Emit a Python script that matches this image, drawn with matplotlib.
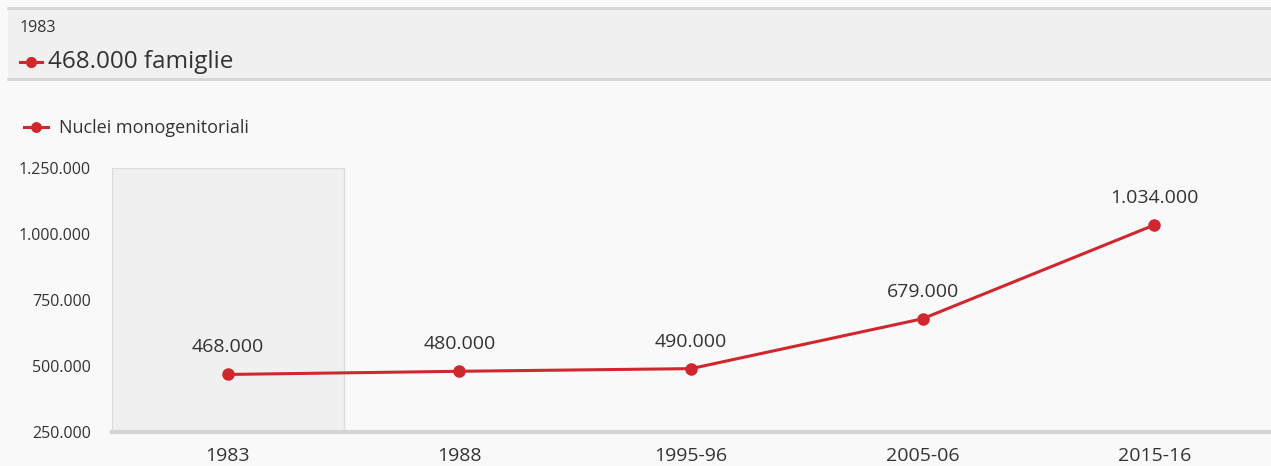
import matplotlib.pyplot as plt
from matplotlib.lines import Line2D
from matplotlib.patches import Rectangle
from matplotlib.ticker import FuncFormatter

plt.rcParams['font.family'] = ['Open Sans', 'DejaVu Sans']

periods = ['1983', '1988', '1995-96', '2005-06', '2015-16']
families = [468000, 480000, 490000, 679000, 1034000]
series_name = 'Nuclei monogenitoriali'
selected = 0

RED = '#d0272e'
TEXT = '#333333'
BG = '#f9f9f9'


def it_fmt(v, pos=None):
    return f'{int(v):,}'.replace(',', '.')


W, H = 1271, 466
fig = plt.figure(figsize=(W / 100, H / 100), dpi=100, facecolor=BG)

# header band with the selected point
fig.patches.append(Rectangle((8 / W, 1 - 80 / H), 1, 72 / H, transform=fig.transFigure,
                             facecolor='#f0f0f0', edgecolor='none', zorder=0))
for yy in (8, 79):
    fig.add_artist(Line2D([8 / W, 1], [1 - yy / H] * 2, color='#d6d6d6', lw=2))
fig.text(20 / W, 1 - 28 / H, periods[selected], fontsize=11.5, color=TEXT, va='center')
fig.add_artist(Line2D([20 / W, 42 / W], [1 - 62 / H] * 2, color=RED, lw=2.2))
fig.add_artist(Line2D([31 / W], [1 - 62 / H], color=RED, marker='o', ms=7))
fig.text(48 / W, 1 - 62 / H, f'{it_fmt(families[selected])} famiglie', fontsize=17.5,
         color=TEXT, va='center')

ax = fig.add_axes([112 / W, 1 - 432 / H, 1158 / W, 264 / H])
ax.set_facecolor(BG)
x = list(range(len(periods)))

# highlighted category band
ax.axvspan(selected - 0.5, selected + 0.5, facecolor='#f0f0f0', edgecolor='#dcdcdc',
           lw=1, zorder=0)

line, = ax.plot(x, families, color=RED, lw=2.2, marker='o', ms=8, zorder=3,
                label=series_name)
for xi, v in zip(x, families):
    ax.annotate(it_fmt(v), (xi, v), xytext=(0, 13), textcoords='offset points',
                ha='center', va='bottom', fontsize=14, color=TEXT)

ax.set_xlim(-0.5, len(periods) - 0.5)
ax.set_ylim(250000, 1250000)
ax.set_yticks([250000, 500000, 750000, 1000000, 1250000])
ax.yaxis.set_major_formatter(FuncFormatter(it_fmt))
ax.set_xticks(x)
ax.set_xticklabels(periods)
ax.tick_params(axis='y', length=0, labelsize=11.5, labelcolor=TEXT, pad=15)
ax.tick_params(axis='x', length=0, labelsize=14, labelcolor=TEXT, pad=11)
for s in ('top', 'right', 'left'):
    ax.spines[s].set_visible(False)
ax.spines['bottom'].set_color('#d4d4d4')
ax.spines['bottom'].set_linewidth(3)

fig.legend(handles=[line], loc='center left', bbox_to_anchor=(8 / W, 1 - 128 / H),
           frameon=False, fontsize=13, handlelength=1.3, handletextpad=0.6,
           labelcolor=TEXT, markerscale=0.85)

fig.savefig('out.png', dpi=100, facecolor=BG)
